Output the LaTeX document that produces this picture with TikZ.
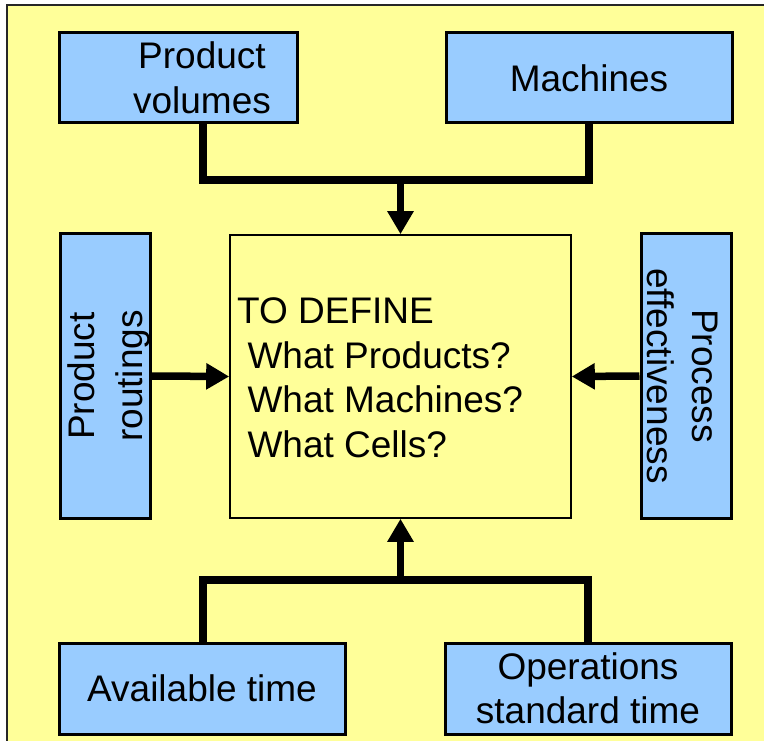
\documentclass[tikz,border=0pt]{standalone}
\usepackage{fontspec}
\setmainfont{Liberation Sans}
\usetikzlibrary{arrows.meta,calc}
\definecolor{panelyellow}{HTML}{FFFF99}
\definecolor{inputblue}{HTML}{99CCFF}
\begin{document}
\begin{tikzpicture}[x=1pt,y=-1pt,
  txt/.style={font=\fontsize{37}{44.5}\selectfont, align=center},
  inbox/.style={draw=black, line width=3pt, fill=inputblue, inner sep=0pt,
    font=\fontsize{37}{44}\selectfont, align=center},
  mainbox/.style={draw=black, line width=1.6pt, fill=panelyellow, inner sep=0pt},
  conn/.style={line width=7.5pt, line join=miter, draw=black},
  feed/.style={conn, -{Triangle[length=23pt,width=25pt]}}
]
\useasboundingbox (0,0) rectangle (764,741);
\fill[white] (0,0) rectangle (764,741);
% background panel
\filldraw[fill=panelyellow, draw=black!85, line width=2pt] (7,5) rectangle (790,770);

% input boxes
\node[inbox, minimum width=238pt, minimum height=90pt] (vol) at (178,78) {};
\node[txt] (voltxt) at (202,78) {Product\\volumes};
\node[inbox, minimum width=286pt, minimum height=90pt] (mach) at (589,78) {Machines};
\node[inbox, minimum width=90pt, minimum height=284pt] (rout) at (105,376) {};
\node[txt, rotate=90, font=\fontsize{37}{48}\selectfont] (routtxt) at ($(rout.center)+(4,0)$) {Product\\routings};
\node[inbox, minimum width=90pt, minimum height=284pt] (eff) at (686,376) {};
\node[txt, rotate=-90, font=\fontsize{37}{45}\selectfont] (efftxt) at ($(eff.center)+(-3,0)$) {Process\\effectiveness};
\node[inbox, minimum width=286pt, minimum height=91pt] (avail) at (202,688.5) {Available time};
\node[inbox, minimum width=286pt, minimum height=91pt] (ops) at (588,688.5) {Operations\\standard time};

% central box
\node[mainbox, minimum width=341pt, minimum height=283pt] (core) at (400.5,376.5) {};
\node[txt, align=left, anchor=west, inner sep=0pt] (coretxt) at (237,378)
  {TO DEFINE\\\hspace*{0.28em}What Products?\\\hspace*{0.28em}What Machines?\\\hspace*{0.28em}What Cells?};

% junctions
\coordinate (jtop) at (400.5,180);
\coordinate (jbot) at (400.5,580);

% connectors
\draw[conn] ($(vol.south)+(25,0)$) |- (jtop) -| (mach.south);
\draw[feed] (jtop) -- (core.north);
\draw[conn] ($(avail.north)+(1,0)$) |- (jbot) -| (ops.north);
\draw[feed] (jbot) -- (core.south);
\draw[feed] (rout.east) -- (core.west);
\draw[feed] (eff.west) -- (core.east);
\end{tikzpicture}
\end{document}
